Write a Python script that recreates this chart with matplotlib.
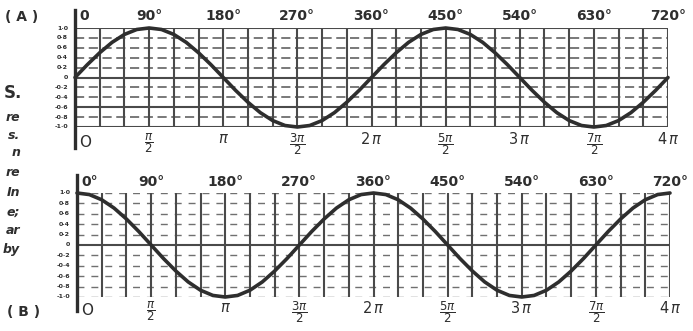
import matplotlib
matplotlib.use("Agg")
import matplotlib.pyplot as plt

plt.rcParams['mathtext.fontset'] = 'dejavusans'

# ---- data ----
angles_deg = [0, 15, 30, 45, 60, 75, 90, 105, 120, 135, 150, 165, 180, 195, 210, 225,
              240, 255, 270, 285, 300, 315, 330, 345, 360, 375, 390, 405, 420, 435,
              450, 465, 480, 495, 510, 525, 540, 555, 570, 585, 600, 615, 630, 645,
              660, 675, 690, 705, 720]
curve_a = [0, .26, .5, .71, .87, .97, 1, .97, .87, .71, .5, .26, 0, -.26, -.5, -.71,
           -.87, -.97, -1, -.97, -.87, -.71, -.5, -.26, 0, .26, .5, .71, .87, .97,
           1, .97, .87, .71, .5, .26, 0, -.26, -.5, -.71, -.87, -.97, -1, -.97,
           -.87, -.71, -.5, -.26, 0]
curve_b = [1, .97, .87, .71, .5, .26, 0, -.26, -.5, -.71, -.87, -.97, -1, -.97, -.87, -.71,
           -.5, -.26, 0, .26, .5, .71, .87, .97, 1, .97, .87, .71, .5, .26,
           0, -.26, -.5, -.71, -.87, -.97, -1, -.97, -.87, -.71, -.5, -.26, 0, .26,
           .5, .71, .87, .97, 1]

tick_deg = [0, 90, 180, 270, 360, 450, 540, 630, 720]
deg_labels_a = ["0", "90°", "180°", "270°", "360°", "450°", "540°", "630°", "720°"]
deg_labels_b = ["0°", "90°", "180°", "270°", "360°", "450°", "540°", "630°", "720°"]
pi_labels = ["O", r"$\dfrac{\pi}{2}$", r"$\pi$", r"$\dfrac{3\pi}{2}$", r"$2\,\pi$",
             r"$\dfrac{5\pi}{2}$", r"$3\,\pi$", r"$\dfrac{7\pi}{2}$", r"$4\,\pi$"]
grid_deg = list(range(0, 721, 30))
levels = [1.0, 0.8, 0.6, 0.4, 0.2, 0.0, -0.2, -0.4, -0.6, -0.8, -1.0]
level_labels = ["1·0", "0·8", "0·6", "0·4", "0·2", "0", "-0·2", "-0·4", "-0·6", "-0·8", "-1·0"]
side_text = ["S.", "re", "s.", "n", "re", "In", "e;", "ar", "by"]

W, H = 693, 331
INK = "#2e2e2e"
GRID = "#4a4a4a"

fig = plt.figure(figsize=(W / 100, H / 100), dpi=100)
fig.patch.set_facecolor("white")


def rect(l, t, r, b):
    return [l / W, 1 - b / H, (r - l) / W, (b - t) / H]


def fig_xy(x, y):
    return x / W, 1 - y / H


def panel(box, curve, deg_labels, axis_span, solid_levels, dash, hcolor, hlw, top_off, bot_off):
    ax = fig.add_axes(box)
    ax.set_xlim(0, 720)
    ax.set_ylim(-1, 1)
    ax.axis("off")
    # horizontal grid
    for lv in levels:
        if lv in solid_levels:
            ax.axhline(lv, color=GRID, lw=1.5, zorder=1)
        else:
            ax.axhline(lv, color=hcolor, lw=hlw, ls=(0, dash), zorder=1)
    # vertical grid
    for g in grid_deg[1:]:
        ax.axvline(g, color=GRID, lw=1.5, zorder=1)
    # left axis, extended
    ax.axvline(0, ymin=axis_span[0], ymax=axis_span[1], color=INK, lw=2.4,
               clip_on=False, zorder=3)
    # curve
    ax.plot(angles_deg, curve, color=INK, lw=2.6, solid_joinstyle="round",
            solid_capstyle="round", clip_on=False, zorder=4)
    # top degree labels
    for d, lab in zip(tick_deg, deg_labels):
        if d == 0:
            ax.annotate(lab, xy=(d, 1), xycoords=("data", "axes fraction"),
                        xytext=(3, top_off), textcoords="offset points",
                        ha="left", va="center", fontsize=10, fontweight="bold", color=INK)
        else:
            ax.annotate(lab, xy=(d, 1), xycoords=("data", "axes fraction"),
                        xytext=(0, top_off), textcoords="offset points",
                        ha="center", va="center", fontsize=10, fontweight="bold", color=INK)
    # bottom pi labels
    for d, lab in zip(tick_deg, pi_labels):
        if d == 0:
            ax.annotate(lab, xy=(d, 0), xycoords=("data", "axes fraction"),
                        xytext=(3, bot_off - 8), textcoords="offset points",
                        ha="left", va="center", fontsize=11, color=INK)
        else:
            fs = 8.5 if "frac" in lab else 10.5
            ax.annotate(lab, xy=(d, 0), xycoords=("data", "axes fraction"),
                        xytext=(0, bot_off), textcoords="offset points",
                        ha="center", va="top", fontsize=fs, color=INK)
    # y labels
    for lv, lab in zip(levels, level_labels):
        ax.annotate(lab, xy=(0, lv), xycoords="data", xytext=(-5, 0),
                    textcoords="offset points", ha="right", va="center",
                    fontsize=4.5, fontweight="bold", color=INK)
    return ax


panel(rect(75, 28, 668, 127), curve_a, deg_labels_a, (-0.21, 1.18),
      solid_levels=[1.0, 0.0, -0.6, -1.0], dash=(6, 3), hcolor="#555555", hlw=1.1,
      top_off=8.5, bot_off=-3)
panel(rect(77, 193, 670, 297), curve_b, deg_labels_b, (-0.13, 1.17),
      solid_levels=[0.0], dash=(5, 5), hcolor="#707070", hlw=1.0,
      top_off=8, bot_off=-2)

# panel letters
fig.text(*fig_xy(22, 17), "( A )", ha="center", va="center", fontsize=10,
         fontweight="bold", color=INK)
fig.text(*fig_xy(24, 312), "( B )", ha="center", va="center", fontsize=10,
         fontweight="bold", color=INK)

# caption fragments from neighbouring column
side_y = [93, 117, 135, 153, 173, 192, 212, 231, 250]
for txt, yy in zip(side_text, side_y):
    if txt == "S.":
        fig.text(*fig_xy(22, yy), txt, ha="right", va="center", fontsize=12,
                 fontweight="bold", color=INK)
    else:
        fig.text(*fig_xy(20, yy), txt, ha="right", va="center", fontsize=9,
                 fontweight="bold", style="italic", color=INK)

fig.savefig("out.png", dpi=100, facecolor="white")
